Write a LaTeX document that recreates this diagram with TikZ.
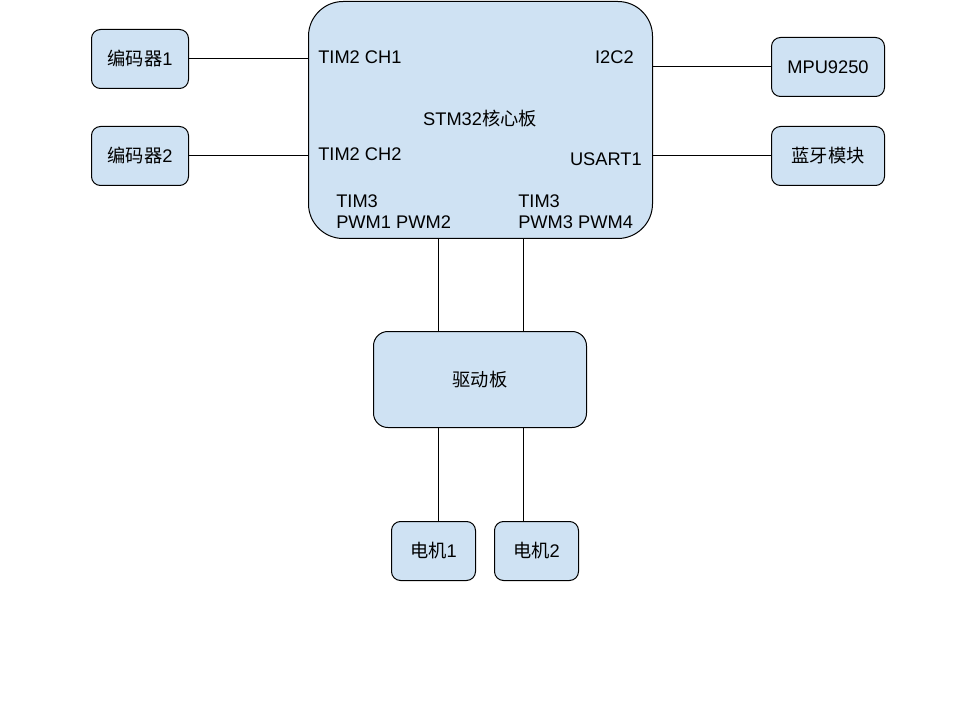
\documentclass[tikz,border=0pt]{standalone}
\usepackage{fontspec}
\setmainfont{Liberation Sans}
\newfontfamily\cjk{Noto Sans CJK SC}
\begin{document}
\begin{tikzpicture}[x=0.75pt,y=-0.75pt,
  every node/.style={font=\fontsize{13.7}{15.75}\selectfont, inner sep=0pt},
  box/.style={draw=black, line width=0.75pt, fill=boxfill, anchor=north west},
  conn/.style={draw=black, line width=0.75pt},
  lbl/.style={anchor=west, align=left}]
\definecolor{boxfill}{RGB}{207,226,243}
\useasboundingbox (0,0) rectangle (960,720);
% boxes
\node[box, rounded corners=26pt, minimum width=344*0.75pt, minimum height=237*0.75pt] (stm) at (308,1) {};
\node at (480,119) (stmt) {STM32{\cjk 核心板}};
\node[box, rounded corners=6.75pt, minimum width=97*0.75pt, minimum height=59*0.75pt] (enc1) at (91,29) {{\cjk 编码器}1};
\node[box, rounded corners=6.75pt, minimum width=97*0.75pt, minimum height=59*0.75pt] (enc2) at (91,126) {{\cjk 编码器}2};
\node[box, rounded corners=6.75pt, minimum width=113*0.75pt, minimum height=59*0.75pt] (mpu) at (771,37) {MPU9250};
\node[box, rounded corners=6.75pt, minimum width=113*0.75pt, minimum height=59*0.75pt] (bt) at (771,126) {{\cjk 蓝牙模块}};
\node[box, rounded corners=10.8pt, minimum width=213*0.75pt, minimum height=96*0.75pt] (drv) at (373,331) {{\cjk 驱动板}};
\node[box, rounded corners=6.75pt, minimum width=84*0.75pt, minimum height=59*0.75pt] (m1) at (391,521) {{\cjk 电机}1};
\node[box, rounded corners=6.75pt, minimum width=84*0.75pt, minimum height=59*0.75pt] (m2) at (494,521) {{\cjk 电机}2};
% labels inside STM32
\node[lbl] (l1) at (318,57) {TIM2 CH1};
\node[lbl] (l2) at (318,154) {TIM2 CH2};
\node[anchor=east] (l3) at (634,57) {I2C2};
\node[anchor=east] (l4) at (642,159) {USART1};
\node[lbl] (l5) at (336,211.5) {TIM3\\PWM1 PWM2};
\node[lbl] (l6) at (518,211.5) {TIM3\\PWM3 PWM4};
% connectors
\draw[conn] (enc1.east) -- (enc1.east -| stm.west);
\draw[conn] (enc2.east) -- (enc2.east -| stm.west);
\draw[conn] (mpu.west -| stm.east) -- (mpu.west);
\draw[conn] (bt.west -| stm.east) -- (bt.west);
\draw[conn] (stm.south -| 438,0) -- (drv.north -| 438,0);
\draw[conn] (stm.south -| 523,0) -- (drv.north -| 523,0);
\draw[conn] (drv.south -| 438,0) -- (m1.north -| 438,0);
\draw[conn] (drv.south -| 523,0) -- (m2.north -| 523,0);
\end{tikzpicture}
\end{document}
